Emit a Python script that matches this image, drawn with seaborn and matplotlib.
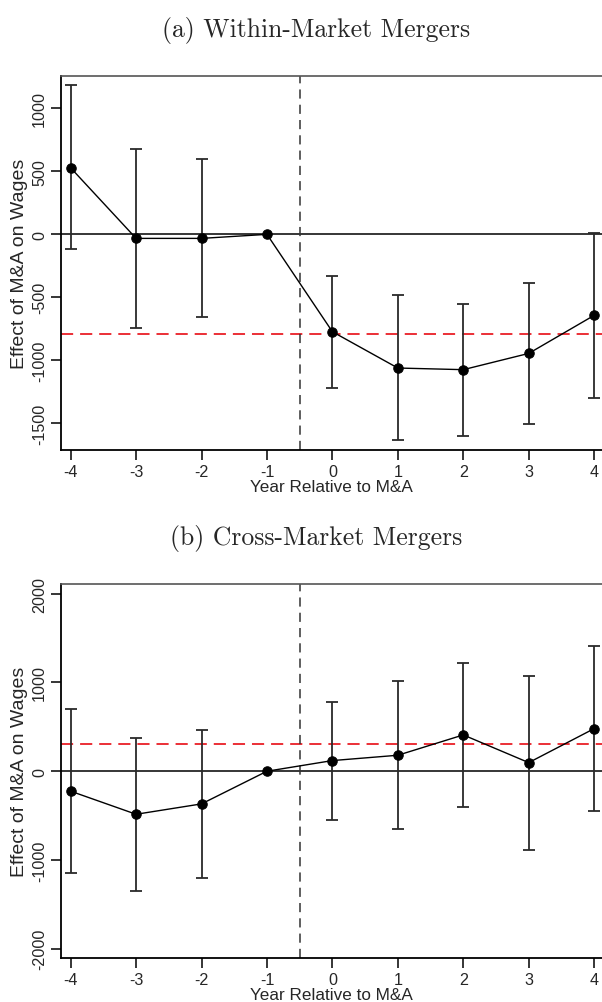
import numpy as np
import pandas as pd
import matplotlib
matplotlib.use("Agg")
import matplotlib.pyplot as plt
import seaborn as sns

# Event-study estimates: year relative to M&A, point estimate and 95% CI bounds
years = [-4, -3, -2, -1, 0, 1, 2, 3, 4]

within_coef = [528, -32, -32, 0, -773, -1061, -1074, -945, -643]
within_lo = [-119, -741, -654, np.nan, -1217, -1633, -1598, -1508, -1297]
within_hi = [1183, 680, 595, np.nan, -328, -484, -550, -384, 8]
within_avg = -794

cross_coef = [-225, -485, -368, 0, 120, 180, 409, 97, 480]
cross_lo = [-1149, -1345, -1202, np.nan, -548, -650, -406, -890, -444]
cross_hi = [702, 379, 465, np.nan, 785, 1014, 1224, 1074, 1408]
cross_avg = 311

within_ticks = [-1500, -1000, -500, 0, 500, 1000]
cross_ticks = [-2000, -1000, 0, 1000, 2000]

titles = ["(a) Within-Market Mergers", "(b) Cross-Market Mergers"]
xlabel = "Year Relative to M&A"
ylabel = "Effect of M&A on Wages"

sns.set_theme(style="white")
plt.rcParams["font.family"] = ["Liberation Sans", "DejaVu Sans"]
plt.rcParams["axes.unicode_minus"] = False

fig = plt.figure(figsize=(6.02, 10.03), dpi=100)

panels = [
    dict(coef=within_coef, lo=within_lo, hi=within_hi, avg=within_avg,
         ticks=within_ticks, ylim=(-1712, 1259), rect=[0.1013, 0.5503, 0.8987, 0.3732],
         title_y=1 - 31 / 1003),
    dict(coef=cross_coef, lo=cross_lo, hi=cross_hi, avg=cross_avg,
         ticks=cross_ticks, ylim=(-2104, 2110), rect=[0.1013, 0.0439, 0.8987, 0.3729],
         title_y=1 - 538 / 1003),
]

for p, title in zip(panels, titles):
    ax = fig.add_axes(p["rect"])
    df = pd.DataFrame({"year": years, "coef": p["coef"], "lo": p["lo"], "hi": p["hi"]})

    # reference lines
    ax.axhline(0, color="black", lw=1.1, zorder=1)
    ax.axhline(p["avg"], color="#e8161e", lw=1.25, ls=(0, (7, 4)), zorder=1)
    ax.axvline(-0.5, color="#333333", lw=1.1, ls=(0, (6, 4)), zorder=1)

    # confidence intervals
    ci = df.dropna()
    ax.errorbar(ci["year"], ci["coef"],
                yerr=[ci["coef"] - ci["lo"], ci["hi"] - ci["coef"]],
                fmt="none", ecolor="#2a2a2a", elinewidth=1.3, capsize=4,
                capthick=1.3, zorder=2, clip_on=False)

    # point estimates
    sns.lineplot(data=df, x="year", y="coef", ax=ax, color="black", lw=1.0,
                 marker="o", markersize=6.8, markeredgecolor="black",
                 zorder=3, clip_on=False)

    ax.set_xlim(-4.148, 4.12)
    ax.set_ylim(*p["ylim"])
    ax.set_xticks(years)
    ax.set_xticklabels([str(y) for y in years])
    ax.set_yticks(p["ticks"])
    ax.set_yticklabels([str(t) for t in p["ticks"]], rotation=90, va="center")
    ax.tick_params(axis="both", which="major", direction="out", length=7,
                   width=1.1, color="black", labelsize=11.6, pad=3,
                   bottom=True, left=True)
    ax.set_xlabel(xlabel, fontsize=12.3, labelpad=0)
    ax.set_ylabel(ylabel, fontsize=14, labelpad=3)

    for side in ["left", "bottom"]:
        ax.spines[side].set_color("black")
        ax.spines[side].set_linewidth(1.3)
    ax.spines["top"].set_color("#555555")
    ax.spines["top"].set_linewidth(1.2)
    ax.spines["right"].set_visible(False)

    fig.text(0.525, p["title_y"], title, ha="center", va="center",
             family="cmr10", fontsize=18.5)

fig.savefig("out.png", dpi=100)
